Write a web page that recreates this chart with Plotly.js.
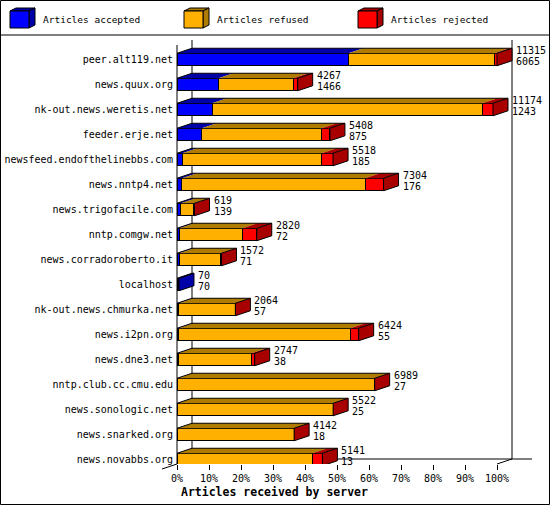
<!DOCTYPE html>
<html>
<head>
<meta charset="utf-8">
<script src="https://cdn.plot.ly/plotly-3.0.1.min.js"></script>
<style>
  html, body { margin: 0; padding: 0; background: #fff; }
  #chart { width: 550px; height: 505px; }
</style>
</head>
<body>
<div id="chart"></div>
<script>
// servers, top to bottom
const servers = [
    'peer.alt119.net', 'news.quux.org', 'nk-out.news.weretis.net', 'feeder.erje.net',
    'newsfeed.endofthelinebbs.com', 'news.nntp4.net', 'news.trigofacile.com', 'nntp.comgw.net',
    'news.corradoroberto.it', 'localhost', 'nk-out.news.chmurka.net', 'news.i2pn.org',
    'news.dne3.net', 'nntp.club.cc.cmu.edu', 'news.sonologic.net', 'news.snarked.org',
    'news.novabbs.org'
];
const accepted = [6065, 1466, 1243, 875, 185, 176, 139, 72, 71, 70, 57, 55, 38, 27, 25, 18, 13];
const refused  = [5160, 2645, 9561, 4243, 4933, 6478, 455, 2253, 1461, 0, 1997, 6074, 2599, 6947, 5492, 4119, 4773];
const rejected = [90, 156, 370, 290, 400, 650, 25, 495, 40, 0, 10, 295, 110, 15, 5, 5, 355];
const pctTicks = [0, 10, 20, 30, 40, 50, 60, 70, 80, 90, 100];
const pctLabels = ['0%', '10%', '20%', '30%', '40%', '50%', '60%', '70%', '80%', '90%', '100%'];

const series = [
    { name: 'Articles accepted', values: accepted, front: '#0000ff', dark: '#0000a8' },
    { name: 'Articles refused',  values: refused,  front: '#ffb000', dark: '#b07c00' },
    { name: 'Articles rejected', values: rejected, front: '#ff0000', dark: '#a80000' }
];

// plot box in pixels
const W = 550, H = 505;
const L = 177, R = 540, T = 40, B = 464;
const pxPerPct = 3.2, pxPerRow = 25;
const xMax = (R - L) / pxPerPct;
const yTop = -0.78, yBot = yTop + (B - T) / pxPerRow;
const DX = 15 / pxPerPct, DY = 5 / pxPerRow;   // depth of the fake 3d
const HALF = 0.25;

const totals = servers.map((_, i) => accepted[i] + refused[i] + rejected[i]);
const maxTotal = Math.max(...totals);
const pct = v => v / maxTotal * 100;
const rows = servers.map((_, i) => i);

const px = x => (x - L) / (R - L);
const py = y => (B - y) / (B - T);
const font = { family: 'DejaVu Sans Mono, monospace', size: 10, color: '#000' };

const traces = series.map(s => ({
    type: 'bar', orientation: 'h',
    x: s.values.map(v => v > 0 ? pct(v) : null),
    y: rows, width: 2 * HALF,
    name: s.name, showlegend: false, hoverinfo: 'skip',
    marker: { color: s.front, line: { color: '#000', width: 1 } }
}));

const shapes = [];
const annotations = [];

// back wall and floor
const line = (x0, y0, x1, y1, layer) => shapes.push({
    type: 'line', xref: 'paper', yref: 'paper', layer: layer || 'below',
    x0: px(x0), y0: py(y0), x1: px(x1), y1: py(y1), line: { color: '#000', width: 1 }
});
line(L + 15, T, L + 15, B - 5);
line(L + 100 * pxPerPct + 15, T, L + 100 * pxPerPct + 15, B - 5);
line(L + 15, B - 5, R - 8, B - 5);
line(L + 100 * pxPerPct, B, L + 100 * pxPerPct + 15, B - 5);
line(L, B, L - 15, B + 5, 'above');
line(L, T + 5, L, B, 'above');

// top and side faces of each bar
rows.forEach(i => {
    const yt = i - HALF, yb = i + HALF;
    let start = 0, last = null;
    series.forEach(s => {
        const v = s.values[i];
        if (v <= 0) return;
        const a = pct(start), b = pct(start + v);
        shapes.push({
            type: 'path', xref: 'x', yref: 'y', layer: 'above',
            path: `M${a},${yt} L${b},${yt} L${b + DX},${yt - DY} L${a + DX},${yt - DY} Z`,
            fillcolor: s.dark, line: { width: 0 }
        });
        start += v;
        last = s;
    });
    const e = pct(totals[i]);
    shapes.push({
        type: 'path', xref: 'x', yref: 'y', layer: 'above',
        path: `M${e},${yt} L${e + DX},${yt - DY} L${e + DX},${yb - DY} L${e},${yb} Z`,
        fillcolor: last.dark, line: { color: '#000', width: 1 }
    });
    shapes.push({
        type: 'path', xref: 'x', yref: 'y', layer: 'above',
        path: `M0,${yt} L${DX},${yt - DY} L${e + DX},${yt - DY}`,
        fillcolor: 'rgba(0,0,0,0)', line: { color: '#000', width: 1 }
    });
    annotations.push({
        x: e, y: i, xref: 'x', yref: 'y', text: String(totals[i]), showarrow: false,
        xanchor: 'left', yanchor: 'middle', xshift: 17, yshift: 9.5, font: font
    });
    annotations.push({
        x: e, y: i, xref: 'x', yref: 'y', text: String(accepted[i]), showarrow: false,
        xanchor: 'left', yanchor: 'middle', xshift: 17, yshift: -1.5, font: font
    });
});

// legend with little cubes
const legendX = [10, 184, 358];
series.forEach((s, k) => {
    const x0 = legendX[k], x1 = x0 + 19, y0 = 11, y1 = 28;
    shapes.push({
        type: 'path', xref: 'paper', yref: 'paper',
        path: `M${px(x0)},${py(y0)} L${px(x1)},${py(y0)} L${px(x1 + 6)},${py(y0 - 3)} L${px(x0 + 6)},${py(y0 - 3)} Z`,
        fillcolor: s.dark, line: { color: '#000', width: 1 }
    });
    shapes.push({
        type: 'path', xref: 'paper', yref: 'paper',
        path: `M${px(x1)},${py(y0)} L${px(x1 + 6)},${py(y0 - 3)} L${px(x1 + 6)},${py(y1 - 3)} L${px(x1)},${py(y1)} Z`,
        fillcolor: s.dark, line: { color: '#000', width: 1 }
    });
    shapes.push({
        type: 'rect', xref: 'paper', yref: 'paper',
        x0: px(x0), x1: px(x1), y0: py(y0), y1: py(y1),
        fillcolor: s.front, line: { color: '#000', width: 1 }
    });
    annotations.push({
        x: px(x0 + 31), y: py(20), xref: 'paper', yref: 'paper', text: s.name,
        showarrow: false, xanchor: 'left', yanchor: 'middle',
        font: { family: font.family, size: 9.5, color: '#000' }
    });
});

// frame
line(0, 35, W, 35, 'above');
shapes.push({
    type: 'rect', xref: 'paper', yref: 'paper', layer: 'above',
    x0: px(0.5), x1: px(W - 0.5), y0: py(0.5), y1: py(H - 0.5),
    line: { color: '#000', width: 1 }
});

annotations.push({
    x: px(179), y: py(492), xref: 'paper', yref: 'paper',
    text: '<b>Articles received by server</b>', showarrow: false,
    xanchor: 'left', yanchor: 'middle',
    font: { family: font.family, size: 11.5, color: '#000' }
});

const layout = {
    width: W, height: H,
    margin: { l: L, r: W - R, t: T, b: H - B },
    paper_bgcolor: '#fff', plot_bgcolor: '#fff',
    barmode: 'stack', showlegend: false,
    font: font,
    xaxis: {
        range: [0, xMax], tickvals: pctTicks, ticktext: pctLabels,
        ticks: 'outside', ticklen: 5, tickcolor: '#000',
        showgrid: false, zeroline: false, showline: false, fixedrange: true,
        tickfont: font
    },
    yaxis: {
        range: [yBot, yTop], tickvals: rows, ticktext: servers,
        ticks: '', showgrid: false, zeroline: false, showline: false,
        ticklabelstandoff: 3, fixedrange: true, tickfont: font
    },
    shapes: shapes,
    annotations: annotations
};

Plotly.newPlot('chart', traces, layout, { displayModeBar: false, staticPlot: true });
</script>
</body>
</html>
